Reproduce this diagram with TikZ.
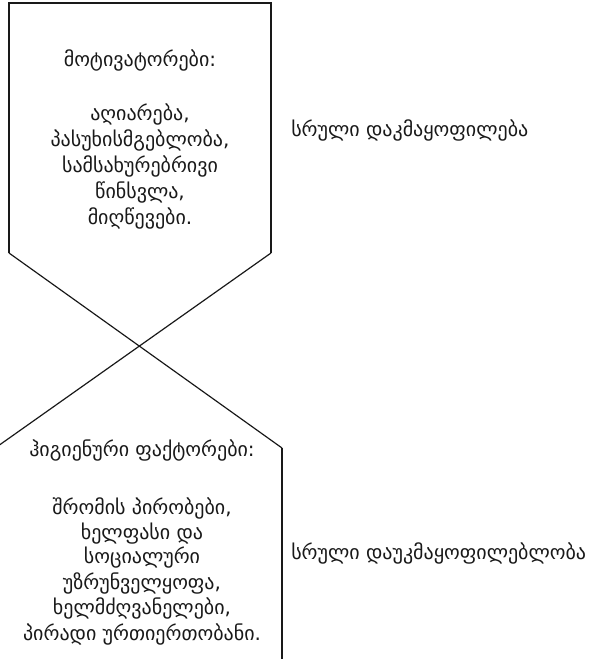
\documentclass[tikz,border=0pt]{standalone}
\usepackage{fontspec}
\newfontfamily\geofont{DejaVu Sans}
\begin{document}
\begin{tikzpicture}[x=0.75pt,y=-0.75pt,
  shapeline/.style={line width=0.9pt,draw=black!90},
  txt/.style={font=\geofont\fontsize{15}{18}\selectfont,inner sep=0pt,text=black!90}]
\useasboundingbox (0,0) rectangle (592,659);
% top shape
\draw[shapeline] (9,253) -- (9,3) -- (271,3) -- (271,253);
% crossing diagonals
\draw[shapeline] (9,253) -- (282,448);
\draw[shapeline] (271,253) -- (-2,446);
% bottom right side
\draw[shapeline] (282,448) -- (282,662);
% top texts
\node[txt] (th) at (140,60) {მოტივატორები:};
\node[txt] (t1) at (140,114) {აღიარება,};
\node[txt] (t2) at (140,140) {პასუხისმგებლობა,};
\node[txt] (t3) at (140,166) {სამსახურებრივი};
\node[txt] (t4) at (140,192) {წინსვლა,};
\node[txt] (t5) at (140,218) {მიღწევები.};
\node[txt,anchor=west] (tr) at (291,130) {სრული დაკმაყოფილება};
% bottom texts
\node[txt] (bh) at (142,450) {ჰიგიენური ფაქტორები:};
\node[txt] (b1) at (142,508) {შრომის პირობები,};
\node[txt] (b2) at (142,533.5) {ხელფასი და};
\node[txt] (b3) at (142,558) {სოციალური};
\node[txt] (b4) at (142,583.5) {უზრუნველყოფა,};
\node[txt] (b5) at (142,608.5) {ხელმძღვანელები,};
\node[txt] (b6) at (142,634) {პირადი ურთიერთობანი.};
\node[txt,anchor=west] (br) at (291,553) {სრული დაუკმაყოფილებლობა};
\end{tikzpicture}
\end{document}
